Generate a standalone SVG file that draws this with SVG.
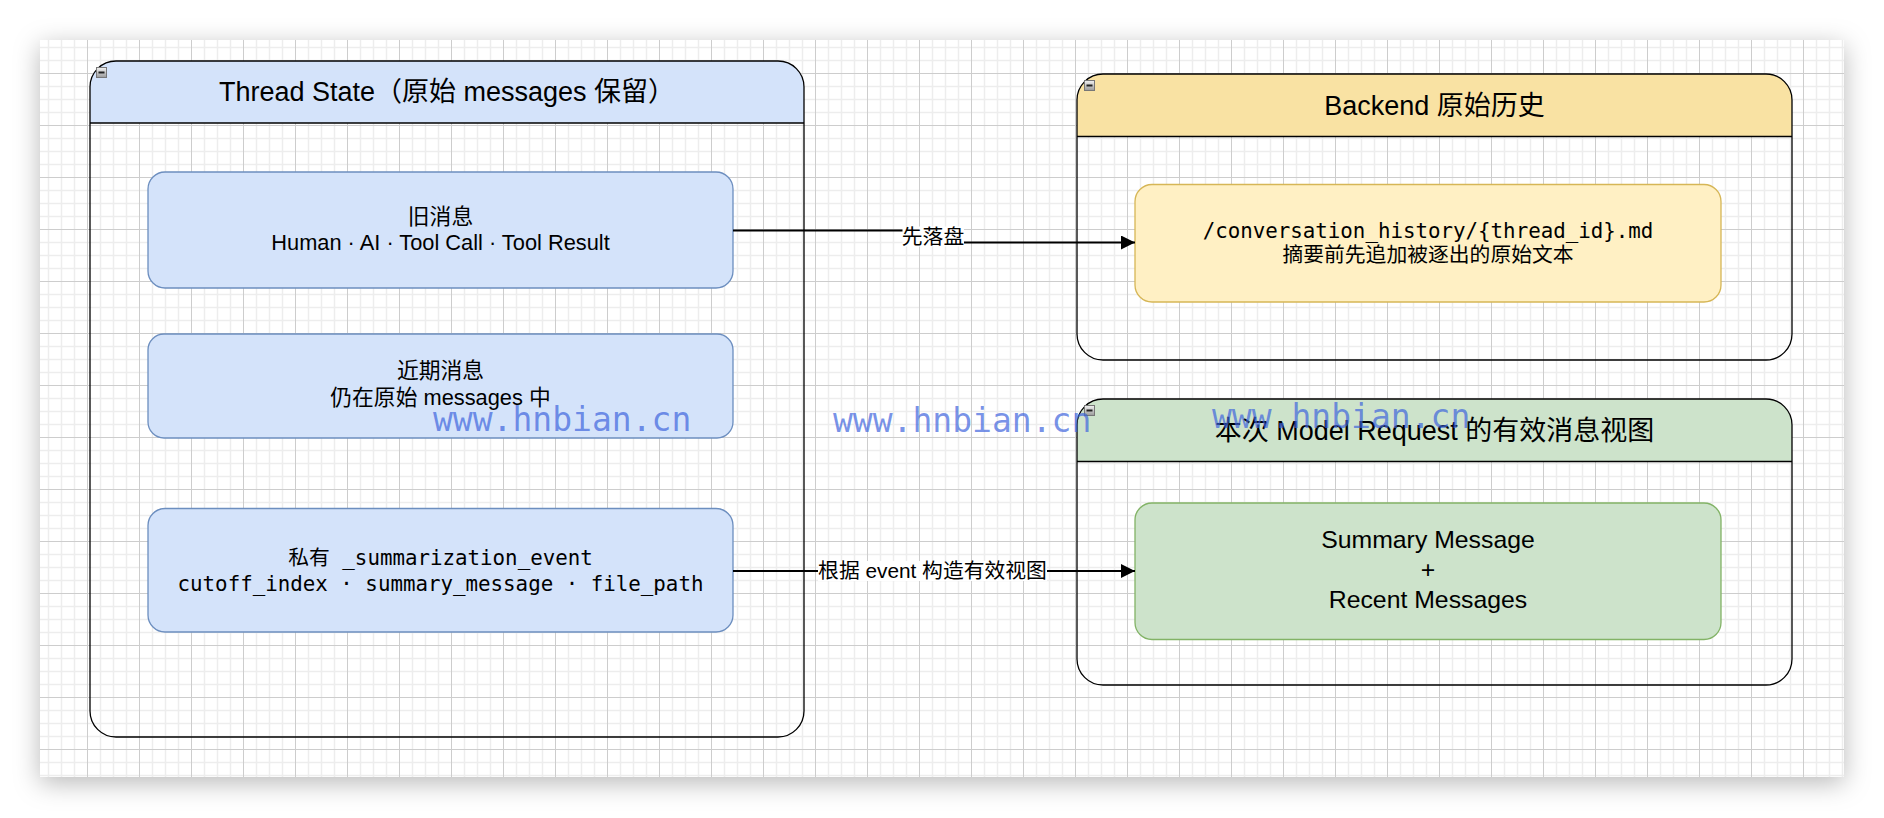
<svg xmlns="http://www.w3.org/2000/svg" width="1884" height="818" viewBox="0 0 1884 818">
<style>
.sans{font-family:"Liberation Sans","Noto Sans CJK SC",sans-serif;fill:#000}
.mono{font-family:"DejaVu Sans Mono","Noto Sans CJK SC",monospace;fill:#000}
.title{font-size:27px;text-anchor:middle}
.body{font-size:21.8px;text-anchor:middle}
.code{font-size:20.8px;text-anchor:middle}
.big{font-size:24.8px;text-anchor:middle}
.lbl{font-size:20.8px;text-anchor:middle}
.cont{fill:none;stroke:#000;stroke-width:1.3}
.sep{stroke:#000;stroke-width:1.6}
.blue{fill:#d4e3fa;stroke:#6c8ebf;stroke-width:1.3}
.yel{fill:#fff0c4;stroke:#d6b656;stroke-width:1.3}
.grn{fill:#cde3cb;stroke:#82b366;stroke-width:1.3}
.edge{fill:none;stroke:#000;stroke-width:1.8}
.wm{font-family:"DejaVu Sans Mono",monospace;font-size:33px;fill:#3d63dd;fill-opacity:0.7}
.icon{fill:url(#ig);stroke:#777;stroke-width:1}
</style>
<defs>
<filter id="sh" x="-5%" y="-10%" width="110%" height="125%">
<feDropShadow dx="0" dy="6" stdDeviation="13" flood-color="#000" flood-opacity="0.28"/>
</filter>
<pattern id="grid" x="87" y="73" width="52" height="52" patternUnits="userSpaceOnUse">
<path d="M13.5 0V52M26.5 0V52M39.5 0V52M0 13.5H52M0 26.5H52M0 39.5H52" stroke="#ededed" stroke-width="1.5" fill="none"/>
<path d="M0.5 0V52M0 0.5H52" stroke="#cdcdcd" stroke-width="1" fill="none"/>
</pattern>
<linearGradient id="ig" x1="0" y1="0" x2="0" y2="1">
<stop offset="0" stop-color="#f2f2f2"/>
<stop offset="1" stop-color="#9a9a9a"/>
</linearGradient>
<marker id="arr" viewBox="0 0 14 14" refX="14" refY="7" markerWidth="14" markerHeight="14" markerUnits="userSpaceOnUse" orient="auto">
<path d="M0,0 L14,7 L0,14 Z" fill="#000"/>
</marker>
</defs>
<rect width="1884" height="818" fill="#fff"/>
<rect x="40" y="40" width="1804" height="737" fill="#fff" filter="url(#sh)"/>
<rect x="40" y="40" width="1804" height="737" fill="url(#grid)"/>

<g id="thread-state">
<path d="M90,123V87A26,26 0 0 1 116,61H778A26,26 0 0 1 804,87V123Z" fill="#d4e3fa"/>
<rect class="cont" x="90" y="61" width="714" height="676" rx="26"/>
<path class="sep" d="M90,123H804"/>
<rect class="icon" x="96.5" y="67.5" width="10" height="10"/>
<path d="M98.5,72.5H104.5" stroke="#222" stroke-width="2"/>
<text class="sans title" x="447" y="101">Thread State（原始 messages 保留）</text>
</g>

<g id="old-messages">
<rect class="blue" x="148" y="172" width="585" height="116" rx="17"/>
<text class="sans body" x="440.5" y="223.5">旧消息</text>
<text class="sans body" x="440.5" y="250">Human · AI · Tool Call · Tool Result</text>
</g>

<g id="recent-messages">
<rect class="blue" x="148" y="334" width="585" height="104" rx="16"/>
<text class="sans body" x="440.5" y="378">近期消息</text>
<text class="sans body" x="440.5" y="404.5">仍在原始 messages 中</text>
</g>

<g id="summarization-event">
<rect class="blue" x="148" y="508.5" width="585" height="123.5" rx="17"/>
<text class="mono code" x="440.5" y="565">私有 _summarization_event</text>
<text class="mono code" x="440.5" y="590.5">cutoff_index · summary_message · file_path</text>
</g>

<g id="backend">
<path d="M1077,136.5V100A26,26 0 0 1 1103,74H1766A26,26 0 0 1 1792,100V136.5Z" fill="#f9e2a3"/>
<rect class="cont" x="1077" y="74" width="715" height="286" rx="26"/>
<path class="sep" d="M1077,136.5H1792"/>
<rect class="icon" x="1084.5" y="80.5" width="10" height="10"/>
<path d="M1086.5,85.5H1092.5" stroke="#222" stroke-width="2"/>
<text class="sans title" x="1434.5" y="114.5">Backend 原始历史</text>
</g>

<g id="history-file">
<rect class="yel" x="1135" y="184.5" width="586" height="117.5" rx="17"/>
<text class="mono code" x="1428" y="237.5">/conversation_history/{thread_id}.md</text>
<text class="sans code" x="1428" y="262">摘要前先追加被逐出的原始文本</text>
</g>

<g id="model-request">
<path d="M1077,461.5V425A26,26 0 0 1 1103,399H1766A26,26 0 0 1 1792,425V461.5Z" fill="#cde3cb"/>
<rect class="cont" x="1077" y="399" width="715" height="286" rx="26"/>
<path class="sep" d="M1077,461.5H1792"/>
<rect class="icon" x="1084.5" y="405.5" width="10" height="10"/>
<path d="M1086.5,410.5H1092.5" stroke="#222" stroke-width="2"/>
<text class="sans title" x="1434.5" y="439.5">本次 Model Request 的有效消息视图</text>
</g>

<g id="effective-view">
<rect class="grn" x="1135" y="503" width="586" height="136.5" rx="17"/>
<text class="sans big" x="1428" y="548.3">Summary Message</text>
<text class="sans big" x="1428" y="578.3">+</text>
<text class="sans big" x="1428" y="608.3">Recent Messages</text>
</g>

<g id="connectors">
<path class="edge" d="M733,230.5H933V242.5H1135" marker-end="url(#arr)"/>
<rect x="902.5" y="226.5" width="61.5" height="20" fill="#fff"/>
<text class="sans lbl" x="933" y="243.5">先落盘</text>
<path class="edge" d="M733,571H1135" marker-end="url(#arr)"/>
<rect x="818" y="561" width="229" height="20" fill="#fff"/>
<text class="sans lbl" x="932.5" y="578">根据 event 构造有效视图</text>
</g>

<g id="watermarks">
<text class="wm" x="433" y="431">www.hnbian.cn</text>
<text class="wm" x="833" y="431.5">www.hnbian.cn</text>
<text class="wm" x="1212" y="428">www.hnbian.cn</text>
</g>
</svg>
